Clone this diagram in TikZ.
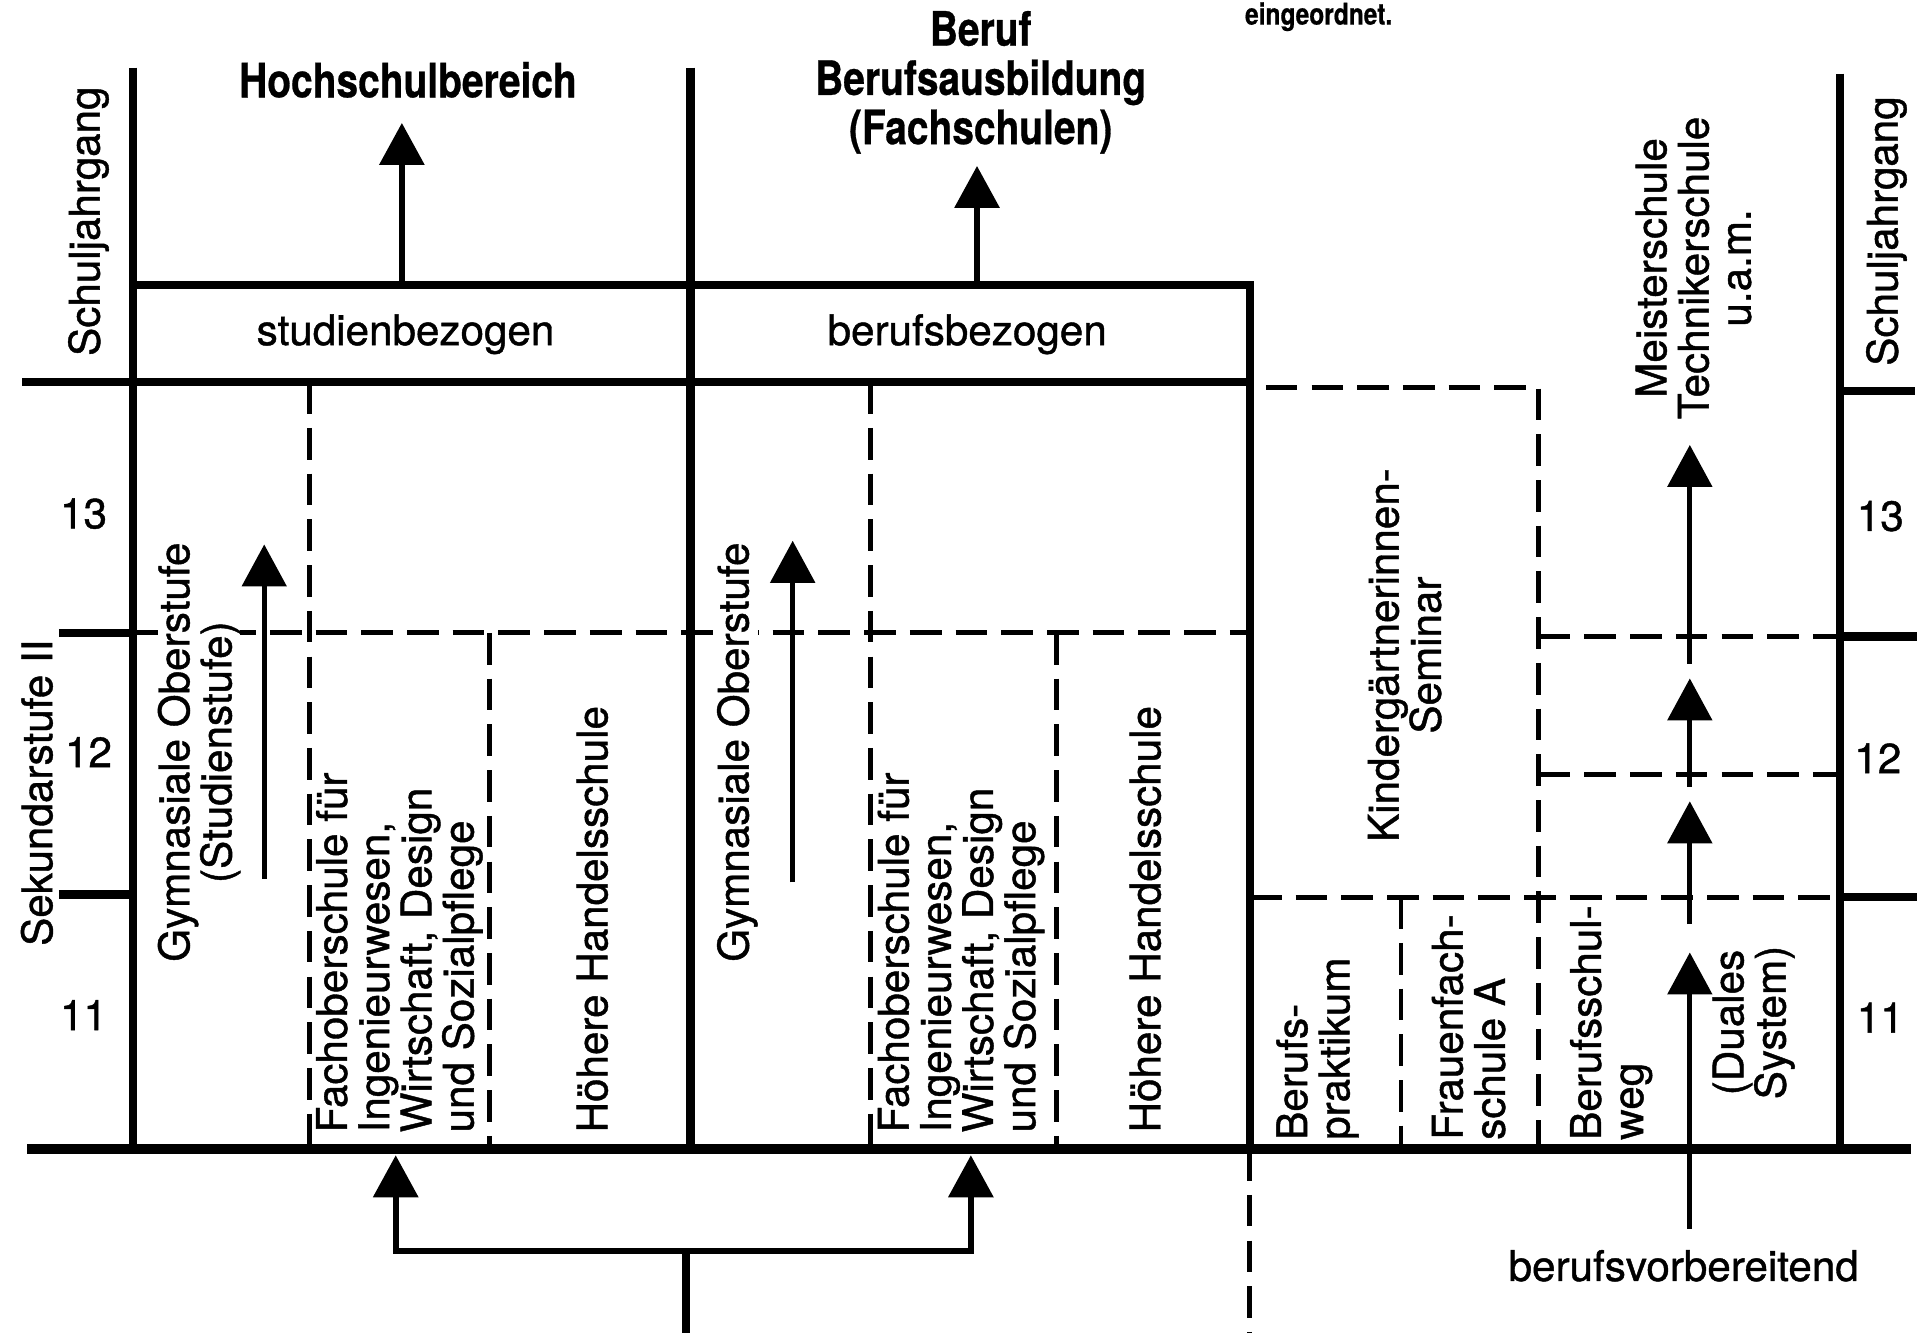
\documentclass[tikz,border=0pt]{standalone}
\usepackage{fontspec}
\setmainfont{TeX Gyre Heros}
\newfontfamily\bodyfont{TeX Gyre Heros}[FakeBold=1.0]
\newfontfamily\headfont{TeX Gyre Heros}[FakeStretch=0.82,FakeBold=0.6]
\usetikzlibrary{calc,positioning,arrows.meta}

\begin{document}
\begin{tikzpicture}[x=0.01229cm,y=-0.01229cm,
    thickline/.style={line width=2.4pt},
    dashline/.style={line width=1.4pt,dash pattern=on 9pt off 4pt},
    uparrow/.style={line width=1.5pt,-{Triangle[width=0.44cm,length=0.42cm]}},
    txt/.style={font=\bodyfont\fontsize{12}{12}\selectfont,inner sep=0pt},
    head/.style={font=\headfont\bfseries\fontsize{13.5}{14}\selectfont,inner sep=0pt,align=center},
    vert/.style={txt,rotate=90,align=left,anchor=west},
    vertc/.style={txt,rotate=90,align=center}]
\useasboundingbox (0,0) rectangle (1568,1085);

% frame of the columns
\coordinate (lt) at (108,55);
\coordinate (lb) at (108,935);
\coordinate (mt) at (562,55);
\coordinate (mb) at (562,935);
\coordinate (bt) at (108,232);
\coordinate (rt) at (1017,232);
\coordinate (rb) at (1017,935);
\coordinate (et) at (1497,60);
\coordinate (eb) at (1497,935);
\coordinate (hl) at (18,311);
\coordinate (hr) at (1017,311);
\coordinate (fl) at (22,935);
\coordinate (fr) at (1555,935);

\draw[thickline] (lt) -- (lb);
\draw[thickline] (mt) -- (mb);
\draw[thickline] (bt) -- (rt) -- (rb);
\draw[thickline] (et) -- (eb);
\draw[thickline] (hl) -- (hr);
\draw[line width=2.8pt] (fl) -- (fr);

% year ticks
\draw[thickline] (48,515) -- (lt |- 0,515);
\draw[thickline] (48,728) -- (lt |- 0,728);
\draw[thickline] (et |- 0,318) -- (1558,318);
\draw[thickline] (et |- 0,518) -- (1560,518);
\draw[thickline] (et |- 0,730) -- (1560,730);

% dashed subdivisions
\draw[dashline] (lt |- 0,515) -- (rt |- 0,515);
\draw[dashline] (252,311) -- (252,935);
\draw[dashline] (398,515) -- (398,935);
\draw[dashline] (708,311) -- (708,935);
\draw[dashline] (860,515) -- (860,935);
\draw[dashline] (1030,315) -- (1252,315) -- (1252,935);
\draw[dashline] (rt |- 0,730) -- (et |- 0,730);
\draw[dashline] (1252,518) -- (et |- 0,518);
\draw[dashline] (1252,630) -- (et |- 0,630);
\draw[dashline] (1140,730) -- (1140,935);
\draw[dashline] (rb) -- (1017,1085);

% texts
\node[font=\headfont\bfseries\fontsize{8.5}{9}\selectfont,inner sep=0pt,anchor=base] (eing) at (1073,20) {eingeordnet.};
\node[head] (hochschul) at (332,65) {Hochschulbereich};
\node[head] (beruf) at (798,67) {Beruf\\Berufsausbildung\\(Fachschulen)};
\node[txt] (studien) at (330,272) {studienbezogen};
\node[txt] (berufsbez) at (787,272) {berufsbezogen};
\node[vertc] (sjl) at (72,180) {Schuljahrgang};
\node[vertc] (sjr) at (1535,188) {Schuljahrgang};
\node[vertc] (sek) at (30,645) {Sekundarstufe II};
\node[txt] (l13) at (68,418) {13};
\node[txt] (l12) at (72,612) {12};
\node[txt] (l11) at (68,826) {11};
\node[txt] (r13) at (1530,420) {13};
\node[txt] (r12) at (1528,617) {12};
\node[txt] (r11) at (1530,828) {11};

\node[vertc,fill=white] (gyml) at (162,612) {Gymnasiale Oberstufe\\(Studienstufe)};
\node[vert] (fosl) at (325,922) {Fachoberschule für\\Ingenieurwesen,\\Wirtschaft, Design\\und Sozialpflege};
\node[vert] (hhsl) at (482,922) {Höhere Handelsschule};
\node[vertc,fill=white] (gymm) at (600,612) {Gymnasiale Oberstufe};
\node[vert] (fosm) at (782,922) {Fachoberschule für\\Ingenieurwesen,\\Wirtschaft, Design\\und Sozialpflege};
\node[vert] (hhsm) at (932,922) {Höhere Handelsschule};

\node[vertc] (kiga) at (1143,533) {Kindergärtnerinnen-\\Seminar};
\node[vert] (prakt) at (1072,928) {Berufs-\\praktikum};
\node[vert] (frauen) at (1195,928) {Frauenfach-\\schule A};
\node[vert] (bsweg) at (1311,928) {Berufsschul-\\weg};
\node[vertc] (dual) at (1427,832) {(Duales\\System)};
\node[vertc] (meister) at (1378,218) {Meisterschule\\Technikerschule\\u.a.m.};
\node[txt] (vorb) at (1370,1030) {berufsvorbereitend};

% arrows
\coordinate (hs0) at (327,232);
\coordinate (hs1) at (327,100);
\coordinate (bf0) at (795,232);
\coordinate (bf1) at (795,135);
\draw[uparrow,line width=1.8pt] (hs0) -- (hs1);
\draw[uparrow,line width=1.8pt] (bf0) -- (bf1);

\coordinate (gl0) at (215,715);
\coordinate (gl1) at (215,443);
\coordinate (gm0) at (645,718);
\coordinate (gm1) at (645,440);
\draw[uparrow] (gl0) -- (gl1);
\draw[uparrow] (gm0) -- (gm1);

\coordinate (d0) at (1375,1000);
\coordinate (d1) at (1375,775);
\coordinate (d2) at (1375,752);
\coordinate (d3) at (1375,652);
\coordinate (d4) at (1375,640);
\coordinate (d5) at (1375,552);
\coordinate (d6) at (1375,540);
\coordinate (d7) at (1375,362);
\draw[uparrow] (d0) -- (d1);
\draw[uparrow] (d2) -- (d3);
\draw[uparrow] (d4) -- (d5);
\draw[uparrow] (d6) -- (d7);

% bracket below
\coordinate (k1) at (322,940);
\coordinate (k2) at (790,940);
\coordinate (k3) at (558,1018);
\draw[line width=1.8pt,{Triangle[width=0.44cm,length=0.42cm]}-{Triangle[width=0.44cm,length=0.42cm]}]
    (k1) -- (k1 |- k3) -- (k2 |- k3) -- (k2);
\draw[thickline] (k3) -- (558,1085);
\end{tikzpicture}
\end{document}
